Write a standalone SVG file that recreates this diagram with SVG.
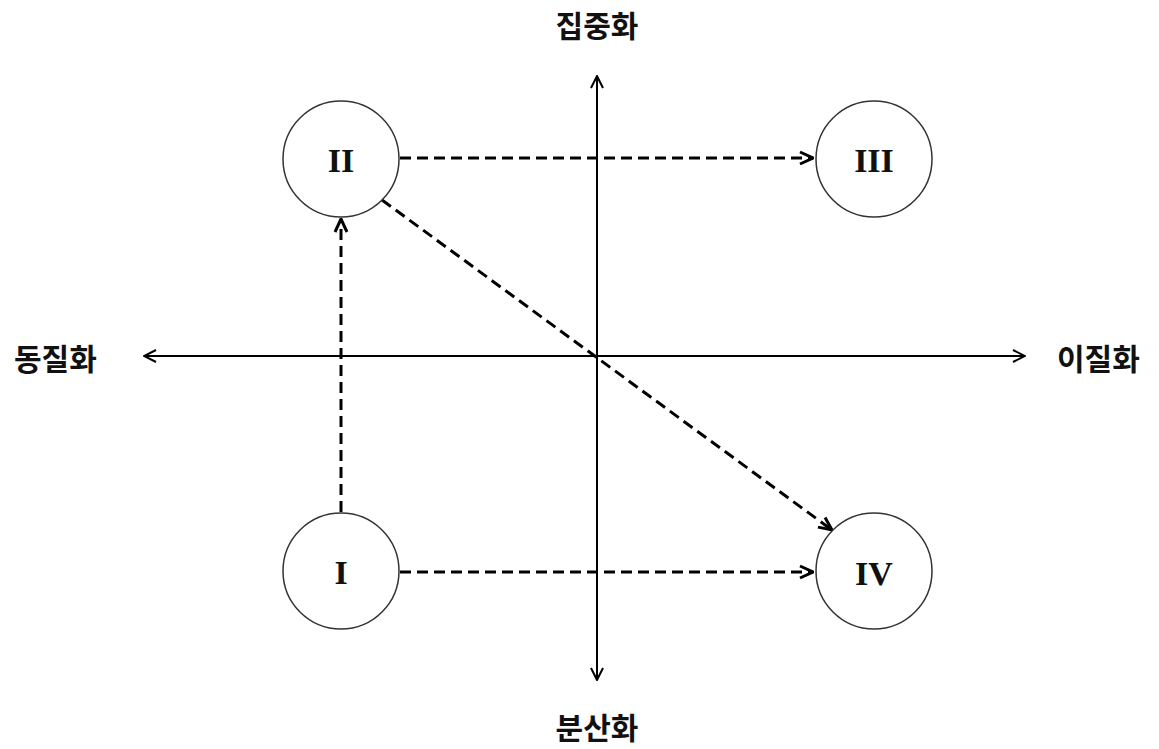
<svg xmlns="http://www.w3.org/2000/svg" width="1159" height="749" viewBox="0 0 1159 749">
<style>
.axis{stroke:#000;stroke-width:2;fill:none}
.dash{stroke:#000;stroke-width:3;fill:none;stroke-dasharray:11 6}
.node{fill:#fff;stroke:#333;stroke-width:1.5}
.num{font-family:"Liberation Serif",serif;font-weight:bold;font-size:34px;fill:#111;text-anchor:middle;dominant-baseline:central}
.lbl{font-family:"Noto Sans CJK KR","Noto Sans",sans-serif;font-weight:bold;font-size:30px;fill:#111;dominant-baseline:central}
</style>
<defs>
<marker id="ah" viewBox="0 0 14 14" refX="13" refY="7" markerWidth="14" markerHeight="14" markerUnits="userSpaceOnUse" orient="auto">
<path d="M1,1 L13,7 L1,13" fill="none" stroke="#000" stroke-width="2"/>
</marker>
<marker id="ahd" viewBox="0 0 16 16" refX="15" refY="8" markerWidth="16" markerHeight="16" markerUnits="userSpaceOnUse" orient="auto">
<path d="M2,2 L15,8 L2,14" fill="none" stroke="#000" stroke-width="3"/>
</marker>
</defs>
<g id="axes">
<line class="axis" x1="597" y1="356" x2="597" y2="76" marker-end="url(#ah)"/>
<line class="axis" x1="597" y1="356" x2="597" y2="680" marker-end="url(#ah)"/>
<line class="axis" x1="597" y1="356" x2="144" y2="356" marker-end="url(#ah)"/>
<line class="axis" x1="597" y1="356" x2="1025" y2="356" marker-end="url(#ah)"/>
</g>
<g id="connectors">
<line class="dash" x1="400" y1="158" x2="813" y2="158" marker-end="url(#ahd)"/>
<line class="dash" x1="400" y1="572" x2="813" y2="572" marker-end="url(#ahd)"/>
<line class="dash" x1="341" y1="512" x2="341" y2="219" marker-end="url(#ahd)"/>
<line class="dash" x1="382" y1="200" x2="832" y2="530" marker-end="url(#ahd)"/>
</g>
<g id="node-II"><circle class="node" cx="341" cy="159" r="58"/><text class="num" x="341" y="160">II</text></g>
<g id="node-III"><circle class="node" cx="874" cy="159" r="58"/><text class="num" x="874" y="160">III</text></g>
<g id="node-I"><circle class="node" cx="341" cy="571" r="58"/><text class="num" x="341" y="572">I</text></g>
<g id="node-IV"><circle class="node" cx="874" cy="571" r="58"/><text class="num" x="874" y="573">IV</text></g>
<g id="labels">
<text class="lbl" x="597" y="24" text-anchor="middle">집중화</text>
<text class="lbl" x="597" y="726" text-anchor="middle">분산화</text>
<text class="lbl" x="14" y="357">동질화</text>
<text class="lbl" x="1057" y="357">이질화</text>
</g>
</svg>
